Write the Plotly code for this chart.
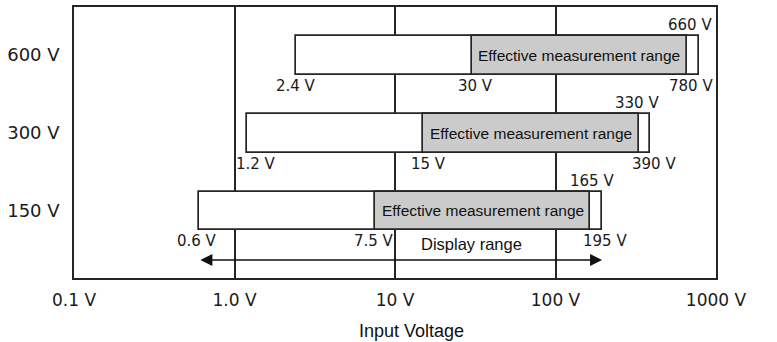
import math
import plotly.graph_objects as go

# Measurement ranges of the three voltage ranges
ranges = ["150 V", "300 V", "600 V"]
display_low = [0.6, 1.2, 2.4]        # lower end of the display range (V)
display_high = [195, 390, 780]       # upper end of the display range (V)
effective_low = [7.5, 15, 30]        # start of the effective measurement range (V)
effective_high = [165, 330, 660]     # end of the effective measurement range (V)

x_tick_vals = [0.1, 1, 10, 100, 1000]
x_tick_text = ["0.1 V", "1.0 V", "10 V", "100 V", "1000 V"]

LINE = "#252525"
GRAY = "#cbcbcb"
LABEL_FONT = dict(family="DejaVu Sans", size=15, color="#1a1a1a")
TEXT_FONT = dict(family="Liberation Sans, Arial", size=15.5, color="#111111")

BAR_W = 0.5
rows = list(range(len(ranges)))

fig = go.Figure()

# Full display range (white bars)
fig.add_trace(go.Bar(
    orientation="h", y=rows, base=display_low,
    x=[h - l for l, h in zip(display_low, display_high)],
    width=BAR_W, marker=dict(color="white", line=dict(color=LINE, width=1.7)),
    hoverinfo="skip", showlegend=False,
))
# Effective measurement range (gray bars)
fig.add_trace(go.Bar(
    orientation="h", y=rows, base=effective_low,
    x=[h - l for l, h in zip(effective_low, effective_high)],
    width=BAR_W, marker=dict(color=GRAY, line=dict(color=LINE, width=1.7)),
    hoverinfo="skip", showlegend=False,
))

annotations = []

# Value labels: (value, row, above?, horizontal nudge in px)
label_specs = []
nudges = {
    0: (-2, -1, 2, 3),
    1: (9, 5, -2, 4),
    2: (0, 4, 3, -8),
}
for r in rows:
    n = nudges[r]
    label_specs += [
        (display_low[r], r, False, n[0]),
        (effective_low[r], r, False, n[1]),
        (effective_high[r], r, True, n[2]),
        (display_high[r], r, False, n[3]),
    ]

def fmt(v):
    return (f"{v:g}" if v != int(v) else f"{int(v)}") + " V"

for v, r, above, dx in label_specs:
    annotations.append(dict(
        x=math.log10(v), y=r + (BAR_W / 2 if above else -BAR_W / 2),
        xref="x", yref="y", text=fmt(v), showarrow=False,
        xanchor="center", yanchor="middle", xshift=dx,
        yshift=11 if above else -11, font=LABEL_FONT,
    ))

# "Effective measurement range" text in the middle of each gray bar
for r in rows:
    mid = 0.5 * (math.log10(effective_low[r]) + math.log10(effective_high[r]))
    annotations.append(dict(
        x=mid, y=r, xref="x", yref="y", text="Effective measurement range",
        showarrow=False, xanchor="center", yanchor="middle", font=TEXT_FONT,
    ))

# Display range double arrow below the 150 V range
ARROW_Y = -0.63
annotations.append(dict(
    x=math.log10(display_high[0]), y=ARROW_Y,
    ax=math.log10(display_low[0]), ay=ARROW_Y,
    xref="x", yref="y", axref="x", ayref="y",
    text="", showarrow=True, arrowside="end+start",
    arrowhead=2, arrowsize=1.6, arrowwidth=1.5, arrowcolor="#111111",
))
annotations.append(dict(
    x=math.log10(30), y=ARROW_Y, xref="x", yref="y",
    text="Display range", showarrow=False, yanchor="middle", yshift=16,
    font=dict(family="Liberation Sans, Arial", size=16.5, color="#111111"),
))

# Axis title
annotations.append(dict(
    x=0.5, y=0, xref="paper", yref="paper", text="Input Voltage",
    showarrow=False, xanchor="center", yanchor="middle", xshift=16, yshift=-53,
    font=dict(family="Liberation Sans, Arial", size=18, color="#111111"),
))

fig.update_layout(
    width=777, height=342,
    margin=dict(l=74, r=61, t=5, b=64),
    paper_bgcolor="white", plot_bgcolor="white",
    barmode="overlay", bargap=0,
    annotations=annotations,
    xaxis=dict(
        type="log", range=[-1, 3],
        tickvals=x_tick_vals, ticktext=x_tick_text,
        showgrid=True, gridcolor=LINE, gridwidth=1.6,
        showline=True, linecolor=LINE, linewidth=1.6, mirror=True,
        ticks="", ticklabelstandoff=6,
        tickfont=dict(family="DejaVu Sans", size=17, color="#1a1a1a"),
        zeroline=False, fixedrange=True,
    ),
    yaxis=dict(
        range=[-0.86, 2.618],
        tickvals=rows, ticktext=ranges,
        showgrid=False, zeroline=False,
        showline=True, linecolor=LINE, linewidth=1.6, mirror=True,
        ticks="", ticklabelstandoff=9,
        tickfont=dict(family="DejaVu Sans", size=18, color="#1a1a1a"),
        fixedrange=True,
    ),
)

fig.write_html("out.html")
